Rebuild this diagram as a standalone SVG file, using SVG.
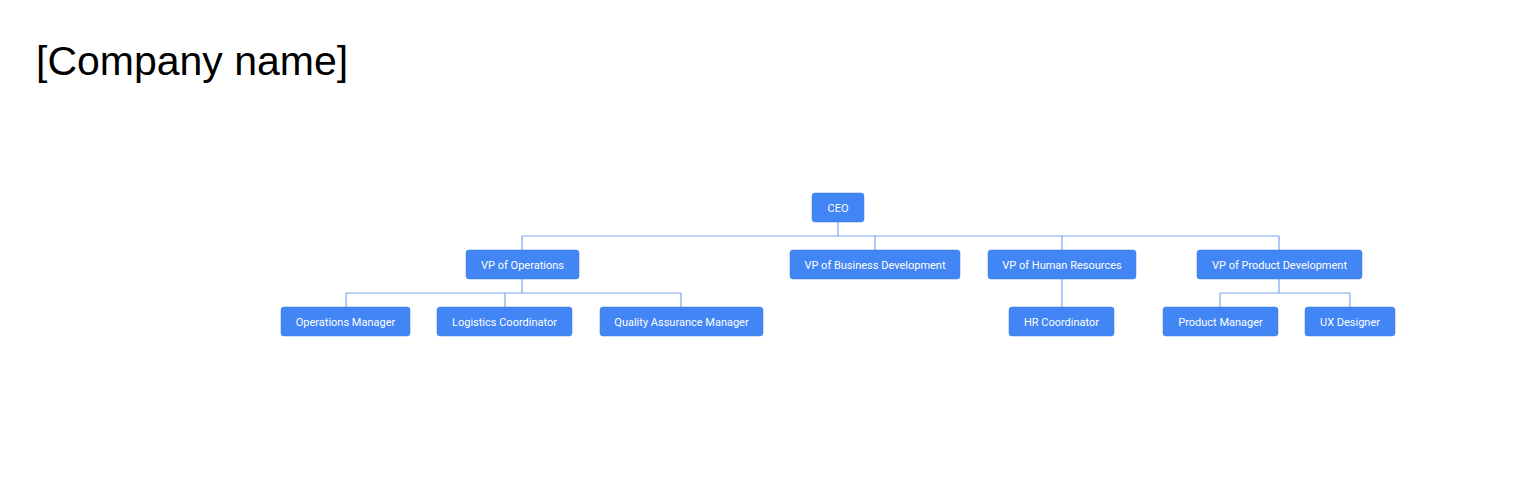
<svg xmlns="http://www.w3.org/2000/svg" width="1540" height="480" viewBox="0 0 1540 480">
<style>
.n rect{fill:#4285f4;stroke:#3a78e0;stroke-width:0.5}
.n text{fill:#fff;font-family:Roboto,"Liberation Sans",sans-serif;font-size:11px;text-anchor:middle;dominant-baseline:central}
.c{fill:none;stroke:#7ea6f2;stroke-width:1.2}
</style>
<rect width="1540" height="480" fill="#fff"/>
<text x="36" y="75" font-family="Liberation Sans,Arial,sans-serif" font-size="41" fill="#000">[Company name]</text>
<g id="connectors" class="c">
<path d="M838 222V236M522 236H1279M522 236V250M875 236V250M1062 236V250M1279 236V250"/>
<path d="M522 279V293M346 293H681M346 293V307M505 293V307M681 293V307"/>
<path d="M1062 279V307"/>
<path d="M1279 279V293M1220 293H1350M1220 293V307M1350 293V307"/>
</g>
<g id="ceo" class="n"><rect x="812" y="193" width="52" height="29" rx="3"/><text x="838" y="208">CEO</text></g>
<g id="vp-ops" class="n"><rect x="466" y="250" width="113" height="29" rx="3"/><text x="522.5" y="265">VP of Operations</text></g>
<g id="vp-bd" class="n"><rect x="790" y="250" width="170" height="29" rx="3"/><text x="875" y="265">VP of Business Development</text></g>
<g id="vp-hr" class="n"><rect x="988" y="250" width="148" height="29" rx="3"/><text x="1062" y="265">VP of Human Resources</text></g>
<g id="vp-pd" class="n"><rect x="1197" y="250" width="165" height="29" rx="3"/><text x="1279.5" y="265">VP of Product Development</text></g>
<g id="ops-mgr" class="n"><rect x="281" y="307" width="129" height="29" rx="3"/><text x="345.5" y="322">Operations Manager</text></g>
<g id="log-coord" class="n"><rect x="437" y="307" width="135" height="29" rx="3"/><text x="504.5" y="322">Logistics Coordinator</text></g>
<g id="qa-mgr" class="n"><rect x="600" y="307" width="163" height="29" rx="3"/><text x="681.5" y="322">Quality Assurance Manager</text></g>
<g id="hr-coord" class="n"><rect x="1009" y="307" width="105" height="29" rx="3"/><text x="1061.5" y="322">HR Coordinator</text></g>
<g id="prod-mgr" class="n"><rect x="1163" y="307" width="115" height="29" rx="3"/><text x="1220.5" y="322">Product Manager</text></g>
<g id="ux" class="n"><rect x="1305" y="307" width="90" height="29" rx="3"/><text x="1350" y="322">UX Designer</text></g>
</svg>
